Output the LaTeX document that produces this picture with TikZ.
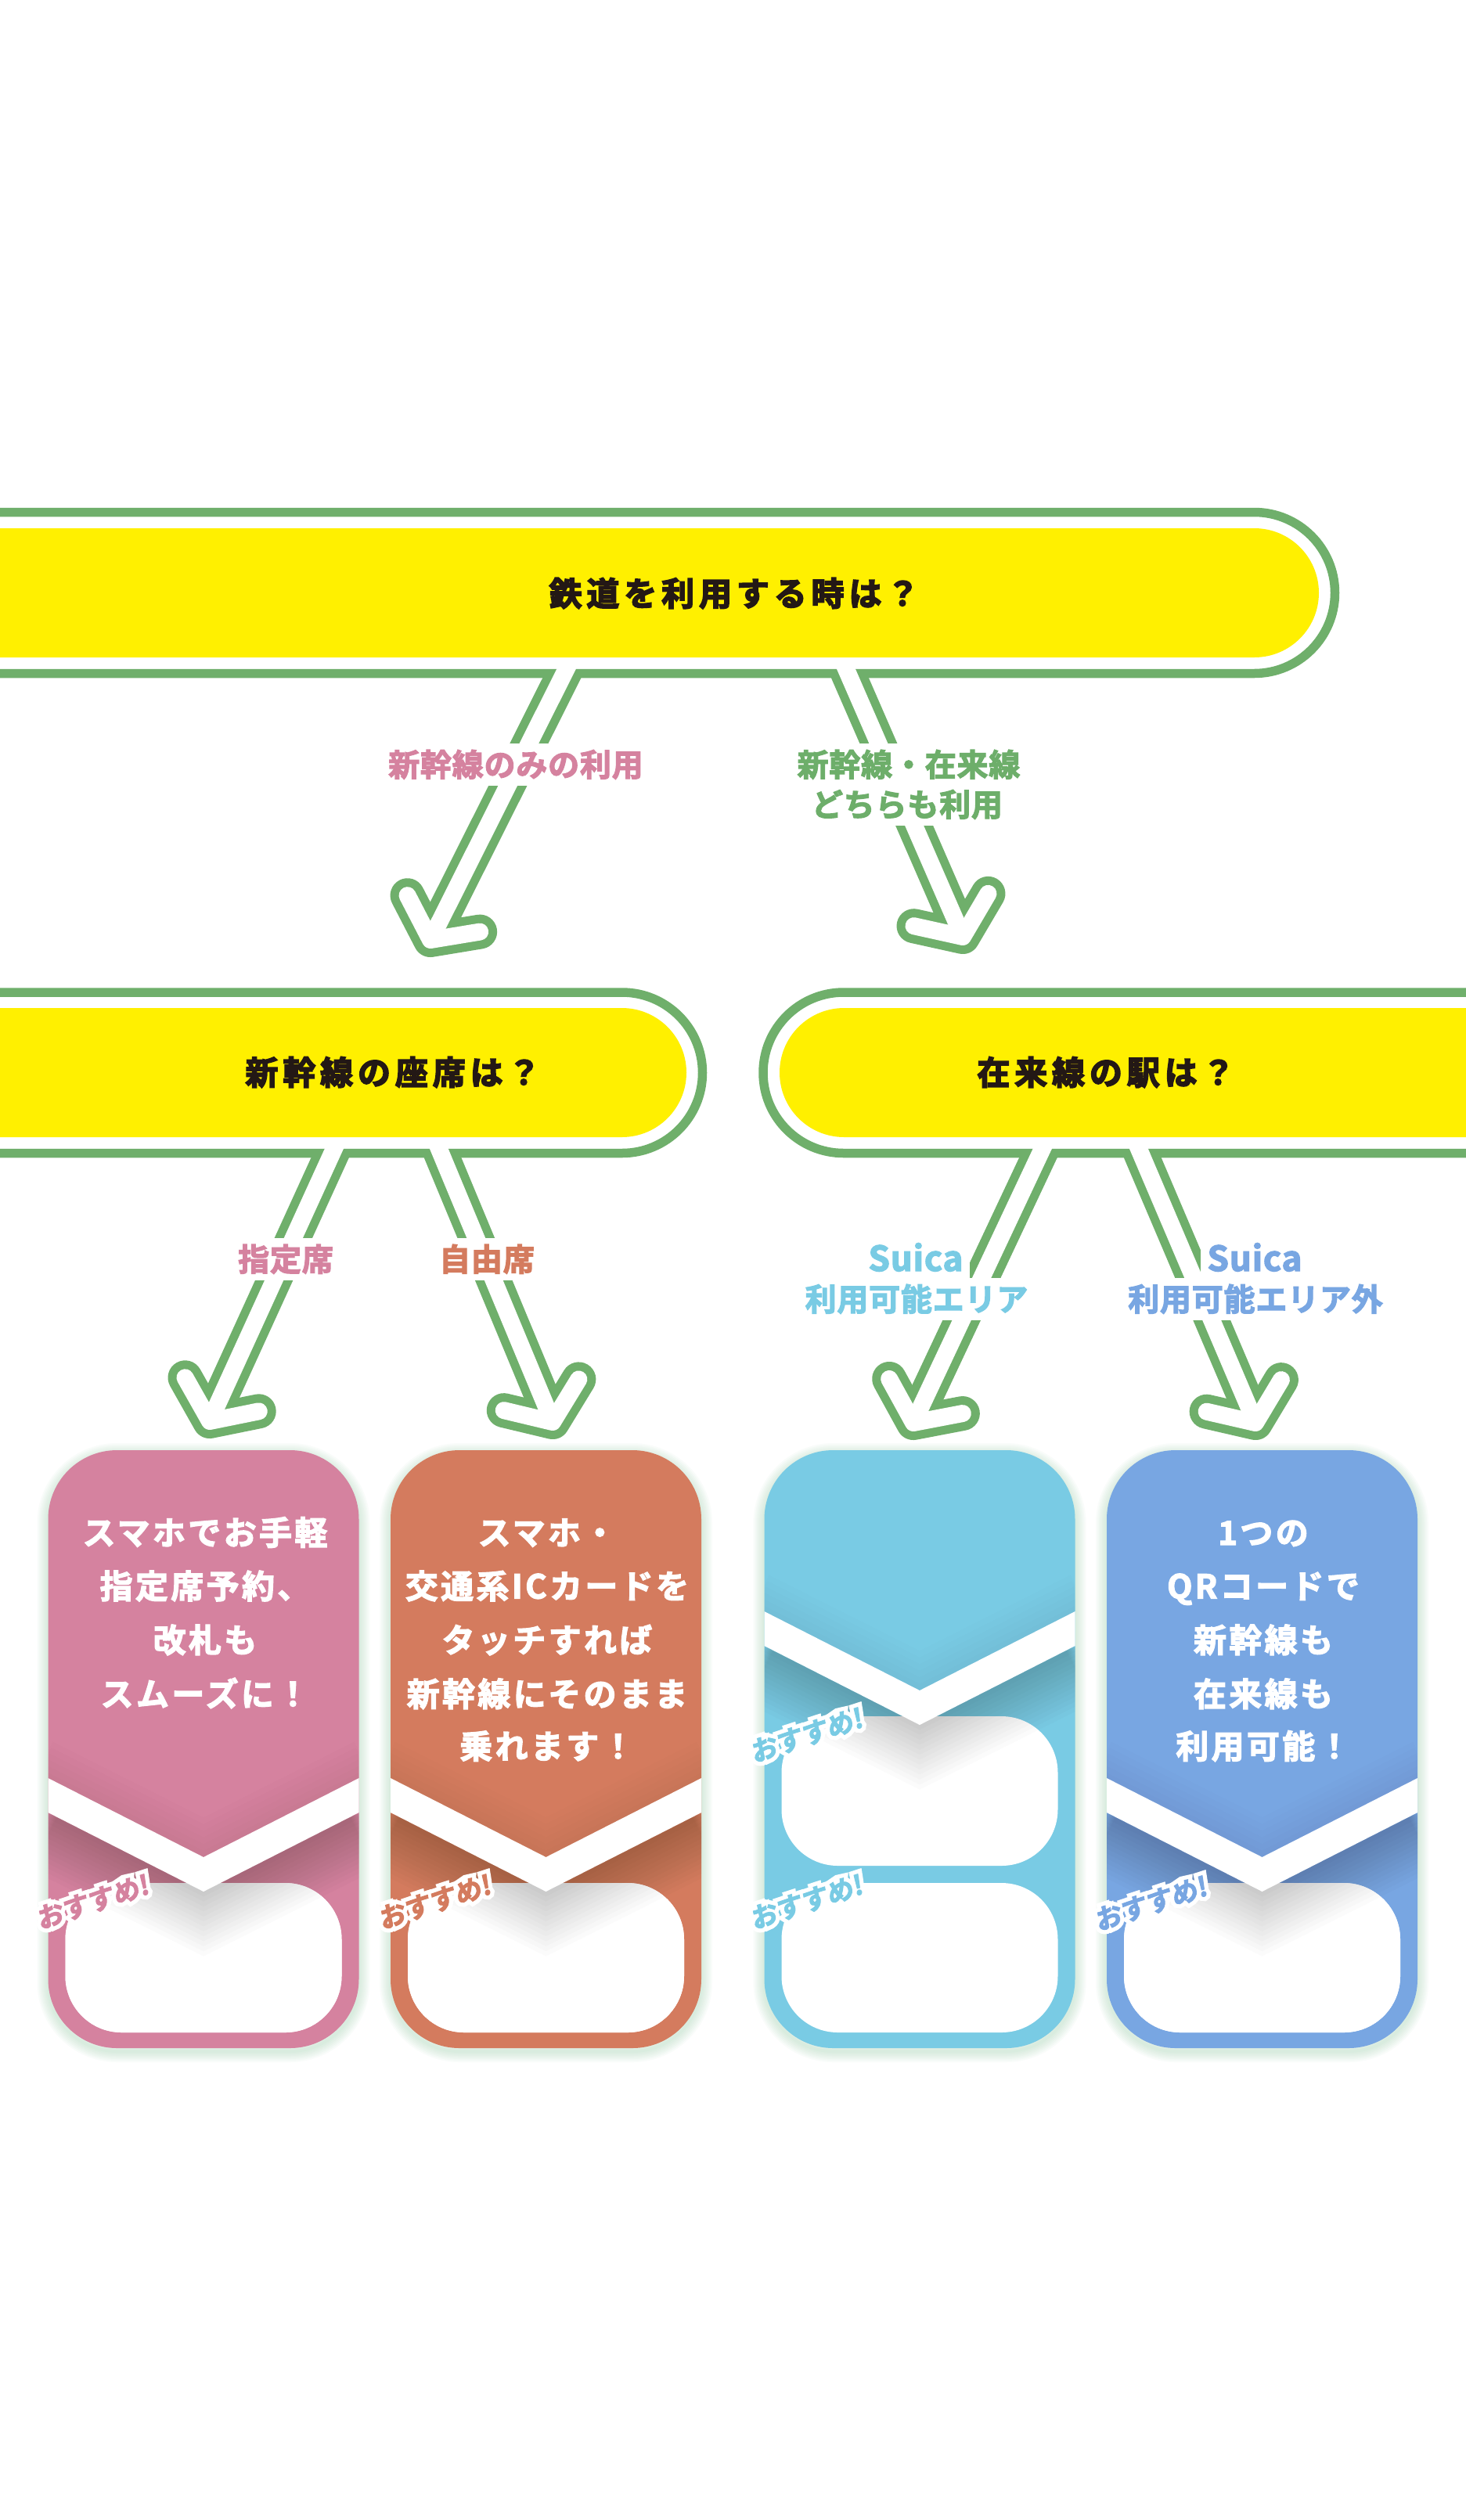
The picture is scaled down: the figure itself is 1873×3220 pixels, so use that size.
\documentclass[tikz,border=0pt]{standalone}
\usepackage{fontspec}
\usetikzlibrary{calc}
\newfontfamily\jpB[LetterSpace=14,FakeBold=4]{Noto Sans CJK JP Bold}
\newfontfamily\jpC[LetterSpace=8,FakeBold=3]{Noto Sans CJK JP Bold}
\newfontfamily\jpL[LetterSpace=2,FakeBold=3]{Noto Sans CJK JP Bold}
\newfontfamily\jpS[FakeSlant=0.12,FakeBold=3]{Noto Sans CJK JP Bold}
\newfontfamily\jpSH[FakeSlant=0.12,FakeBold=34]{Noto Sans CJK JP Bold}
\definecolor{lgreen}{HTML}{6FAF6B}
\definecolor{byellow}{HTML}{FFF000}
\definecolor{ink}{HTML}{231815}
\definecolor{cpink}{HTML}{D5829F}
\definecolor{corange}{HTML}{D47B5E}
\definecolor{clblue}{HTML}{79CBE4}
\definecolor{cblue}{HTML}{78A6E2}
\definecolor{tgreen}{HTML}{6DAE6A}
\definecolor{cshadow}{HTML}{8FCB9E}

\newcommand\arrowG[1]{%
  \draw[lgreen,line width=44,line cap=butt] (#1s) -- (#1v);
  \draw[lgreen,line width=44,line cap=round,line join=round] (#1l) -- (#1v) -- (#1r);}
\newcommand\arrowW[1]{%
  \draw[white,line width=22,line cap=butt] (#1s) -- (#1v);
  \draw[white,line width=22,line cap=round,line join=round] (#1l) -- (#1v) -- (#1r);}

\newcommand\drawcard[3]{% left, colour, chevron shift
  \pgfmathsetmacro\cardL{#1}
  \pgfmathsetmacro\cardR{#1+397}
  \pgfmathsetmacro\cardC{#1+198.5}
  \pgfmathsetmacro\chT{2271-#3}
  \pgfmathsetmacro\chV{2373-#3}
  \pgfmathsetmacro\chB{2315-#3}
  \pgfmathsetmacro\chBV{2417-#3}
  \foreach \w in {4,8,...,28}
    \draw[cshadow,opacity=0.05,line width=\w,rounded corners=88] (\cardL,1858) rectangle (\cardR,2621);
  \fill[#2,rounded corners=88] (\cardL,1853) rectangle (\cardR,2617);
  \begin{scope}
    \clip[rounded corners=88] (\cardL,1853) rectangle (\cardR,2617);
    \fill[white,rounded corners=72] (\cardL+22,2406) rectangle (\cardR-22,2597);
    \fill[white,rounded corners=72] (\cardL+22,2406-#3) rectangle (\cardR-22,2597-#3);
    \foreach \d in {6,12,...,78}
      \draw[black,opacity=0.014,line width=\d] (\cardL-5,\chB+\d/2) -- (\cardC,\chBV+\d/2) -- (\cardR+5,\chB+\d/2);
    \foreach \d in {8,16,...,48}
      \draw[black,opacity=0.008,line width=\d] (\cardL-5,\chT-\d/2) -- (\cardC,\chV-\d/2) -- (\cardR+5,\chT-\d/2);
    \fill[white] (\cardL-2,\chT) -- (\cardC,\chV) -- (\cardR+2,\chT) -- (\cardR+2,\chB) -- (\cardC,\chBV) -- (\cardL-2,\chB) -- cycle;
  \end{scope}
}
\newcommand\osusume[4]{% name, x, y, colour
  \node[osus,font=\jpSH\fontsize{34}{34}\selectfont,text=white] (#1h) at (#2,#3) {おすすめ!};
  \node[osus,text=#4] (#1) at (#2,#3) {おすすめ!};
}

\begin{document}
\begin{tikzpicture}[x=1pt,y=-1pt,
  bart/.style={font=\jpB\fontsize{42}{42}\selectfont,text=ink,anchor=base,inner sep=0pt},
  cardt/.style={font=\jpC\fontsize{42}{42}\selectfont,text=white,anchor=base,inner sep=0pt},
  lab/.style={font=\jpL\fontsize{40}{40}\selectfont,anchor=base,fill=white,inner sep=8pt},
  labs/.style={font=\jpL\fontsize{44}{44}\selectfont,anchor=base,fill=white,inner sep=8pt},
  osus/.style={font=\jpS\fontsize{34}{34}\selectfont,rotate=18,inner sep=0pt},
  outl/.style={draw=lgreen,line width=11.5}]
\useasboundingbox (0,0) rectangle (1873,3220);
\fill[white] (0,0) rectangle (1873,3220);
\clip (0,0) rectangle (1873,3220);

% ---------- cards ----------
\drawcard{61.5}{cpink}{0}
\drawcard{499}{corange}{0}
\drawcard{976.5}{clblue}{213}
\drawcard{1414}{cblue}{0}

\osusume{o1}{118}{2430}{cpink}
\osusume{o2}{555}{2430}{corange}
\osusume{o3a}{1030}{2217}{clblue}
\osusume{o3b}{1030}{2430}{clblue}
\osusume{o4}{1470}{2432}{cblue}

% card texts
\node[cardt] (c1a) at (262,1974) {スマホでお手軽};
\node[cardt] (c1b) at (262,2042.4) {指定席予約、};
\node[cardt] (c1c) at (262,2111.3) {改札も};
\node[cardt] (c1d) at (262,2180.2) {スムーズに！};

\node[cardt] (c2a) at (699,1974) {スマホ・};
\node[cardt] (c2b) at (699,2042.4) {交通系ICカードを};
\node[cardt] (c2c) at (699,2111.3) {タッチすれば};
\node[cardt] (c2d) at (699,2180.2) {新幹線にそのまま};
\node[cardt] (c2e) at (699,2247) {乗れます！};

\node[cardt] (c4a) at (1614,1974) {1つの};
\node[cardt] (c4b) at (1614,2042.4) {QRコードで};
\node[cardt] (c4c) at (1614,2111.3) {新幹線も};
\node[cardt] (c4d) at (1614,2180.2) {在来線も};
\node[cardt] (c4e) at (1614,2247) {利用可能！};

% ---------- bars (yellow) ----------
\fill[byellow,rounded corners=82.5] (-400,675) rectangle (1685,840);
\fill[byellow,rounded corners=82.5] (-400,1288) rectangle (877,1453);
\fill[byellow,rounded corners=82.5] (996,1288) rectangle (2300,1453);

% ---------- arrow geometry ----------
\coordinate (a1s) at (727,848);   \coordinate (a1v) at (550,1201);
\coordinate (a2s) at (1078,848);  \coordinate (a2v) at (1230,1197);
\coordinate (b1s) at (430,1461);  \coordinate (b1v) at (268,1816);
\coordinate (b2s) at (558,1461);  \coordinate (b2v) at (706,1817);
\coordinate (b3s) at (1335,1461); \coordinate (b3v) at (1167,1818);
\coordinate (b4s) at (1452,1461); \coordinate (b4v) at (1604,1818);
\coordinate (a1l) at ($(a1v)!64pt!54:(a1s)$); \coordinate (a1r) at ($(a1v)!64pt!-54:(a1s)$);
\coordinate (a2l) at ($(a2v)!64pt!54:(a2s)$); \coordinate (a2r) at ($(a2v)!64pt!-54:(a2s)$);
\coordinate (b1l) at ($(b1v)!64pt!54:(b1s)$); \coordinate (b1r) at ($(b1v)!64pt!-54:(b1s)$);
\coordinate (b2l) at ($(b2v)!64pt!54:(b2s)$); \coordinate (b2r) at ($(b2v)!64pt!-54:(b2s)$);
\coordinate (b3l) at ($(b3v)!64pt!54:(b3s)$); \coordinate (b3r) at ($(b3v)!64pt!-54:(b3s)$);
\coordinate (b4l) at ($(b4v)!64pt!54:(b4s)$); \coordinate (b4r) at ($(b4v)!64pt!-54:(b4s)$);

% green outer strokes of arrows (outside the bars only)
\begin{scope}
  \clip (-10,860.5) rectangle (1900,1262);
  \arrowG{a1}\arrowG{a2}
\end{scope}
\begin{scope}
  \clip (-10,1473.5) rectangle (1900,1850);
  \arrowG{b1}\arrowG{b2}\arrowG{b3}\arrowG{b4}
\end{scope}

% bar outlines
\draw[outl,rounded corners=103] (-400,654.5) rectangle (1705.5,860.5);
\draw[outl,rounded corners=102.75] (-400,1268) rectangle (897.5,1473.5);
\draw[outl,rounded corners=102.75] (975,1268) rectangle (2300,1473.5);

% white arrow bodies
\arrowW{a1}\arrowW{a2}\arrowW{b1}\arrowW{b2}\arrowW{b3}\arrowW{b4}

% ---------- bar texts ----------
\node[bart] (q0) at (938,774) {鉄道を利用する時は？};
\node[bart] (q1) at (502,1386) {新幹線の座席は？};
\node[bart] (q2) at (1413,1386) {在来線の駅は？};

% ---------- arrow labels ----------
\node[lab,text=cpink] (l1) at (659,992) {新幹線のみの利用};
\node[lab,text=tgreen] (l2a) at (1161,992) {新幹線・在来線};
\node[lab,text=tgreen] (l2b) at (1159,1043) {どちらも利用};
\node[lab,text=cpink] (l3) at (365,1624) {指定席};
\node[lab,text=corange] (l4) at (622,1624) {自由席};
\node[labs,text=clblue] (l5a) at (1170,1624) {Suica};
\node[lab,text=clblue] (l5b) at (1171,1675) {利用可能エリア};
\node[labs,text=cblue] (l6a) at (1603,1624) {Suica};
\node[lab,text=cblue] (l6b) at (1604,1675) {利用可能エリア外};
\end{tikzpicture}
\end{document}
